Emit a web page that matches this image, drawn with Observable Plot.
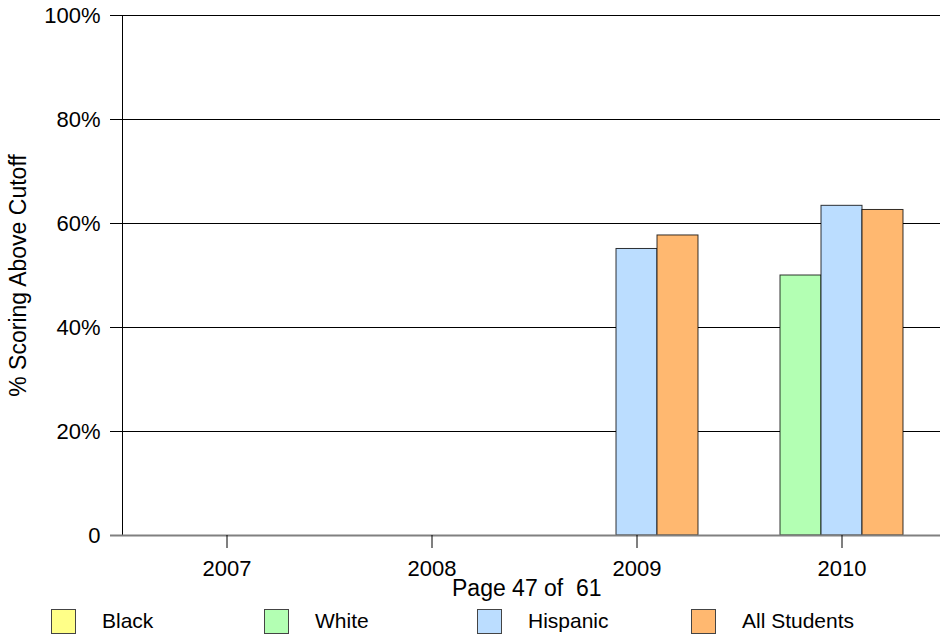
<!DOCTYPE html>
<html><head><meta charset="utf-8">
<script src="https://cdn.jsdelivr.net/npm/d3@7"></script>
<script src="https://cdn.jsdelivr.net/npm/@observablehq/plot@0.6"></script>
<style>
body{margin:0;background:#fff;font-family:"Liberation Sans",Arial,Helvetica,sans-serif;}
#wrap{position:relative;width:940px;height:634px;overflow:hidden;background:#fff;}
#wrap svg{position:absolute;left:0;top:0;}
#page{position:absolute;left:452px;top:577px;font-size:23px;line-height:23px;white-space:pre;color:#000;}
.leg{position:absolute;top:608px;height:26px;display:flex;align-items:center;}
.sw{width:25px;height:25px;border:1px solid #444;box-sizing:border-box;}
.lt{margin-left:26px;font-size:21px;color:#000;}
</style></head><body><div id="wrap"></div>
<script>
const years = ["2007", "2008", "2009", "2010"];
const groups = ["Black", "White", "Hispanic", "All Students"];
const colors = ["#FFFF88", "#B3FFB3", "#BBDDFF", "#FFB870"];
const blackVals    = [null, null, null, null];
const whiteVals    = [null, null, null, 50.0];
const hispanicVals = [null, null, 55.1, 63.4];
const allVals      = [null, null, 57.7, 62.6];
const yTicks = [0, 20, 40, 60, 80, 100];
const yTickLabels = ["0", "20%", "40%", "60%", "80%", "100%"];
const legendLeft = [51, 264, 477, 691];

const series = [blackVals, whiteVals, hispanicVals, allVals];
const key = (y, g) => y + "|" + g;
const xDomain = years.flatMap(y => [...groups.map(g => key(y, g)), key(y, "_gap")]);
const tickKeys = years.map(y => key(y, "Hispanic"));
const rows = [];
groups.forEach((g, gi) => series[gi].forEach((v, yi) => {
  if (v != null) rows.push({key: key(years[yi], g), group: g, value: v});
}));

const plot = Plot.plot({
  width: 940, height: 600,
  marginTop: 15, marginBottom: 65, marginLeft: 122, marginRight: 0,
  style: {fontFamily: '"Liberation Sans",Arial,sans-serif', fontSize: "22px", color: "#000", background: "transparent"},
  x: {domain: xDomain, range: [122, 946], padding: 0, axis: null},
  y: {domain: [0, 100], axis: null},
  color: {domain: groups, range: colors},
  marks: [
    Plot.ruleY(yTicks.filter(d => d > 0), {stroke: "#000", strokeWidth: 1, insetLeft: -12}),
    Plot.barY(rows, {x: "key", y: "value", fill: "group", stroke: "#000", strokeOpacity: 0.8, strokeWidth: 1}),
    Plot.frame({anchor: "left", stroke: "#000"}),
    Plot.ruleY([0], {stroke: "#808080", strokeWidth: 2, insetLeft: -12}),
    Plot.axisY(yTicks, {tickSize: 0, tickPadding: 22, fontSize: 22,
      tickFormat: d => yTickLabels[yTicks.indexOf(d)], label: null}),
    Plot.axisY([], {tickSize: 0, fontSize: 23,
      label: "% Scoring Above Cutoff", labelAnchor: "center", labelOffset: 113, labelArrow: "none"}),
    Plot.axisX(tickKeys, {tickSize: 13, tickPadding: 12, fontSize: 22, stroke: "#000",
      tickFormat: d => d.split("|")[0], label: null})
  ]
});
const wrap = document.getElementById("wrap");
wrap.appendChild(plot);
const page = document.createElement("div");
page.id = "page";
page.textContent = "Page 47 of  61";
wrap.appendChild(page);
groups.forEach((g, i) => {
  const d = document.createElement("div");
  d.className = "leg";
  d.style.left = legendLeft[i] + "px";
  const s = document.createElement("div");
  s.className = "sw";
  s.style.background = colors[i];
  const t = document.createElement("span");
  t.className = "lt";
  t.textContent = g;
  d.appendChild(s); d.appendChild(t);
  wrap.appendChild(d);
});
</script></body></html>
